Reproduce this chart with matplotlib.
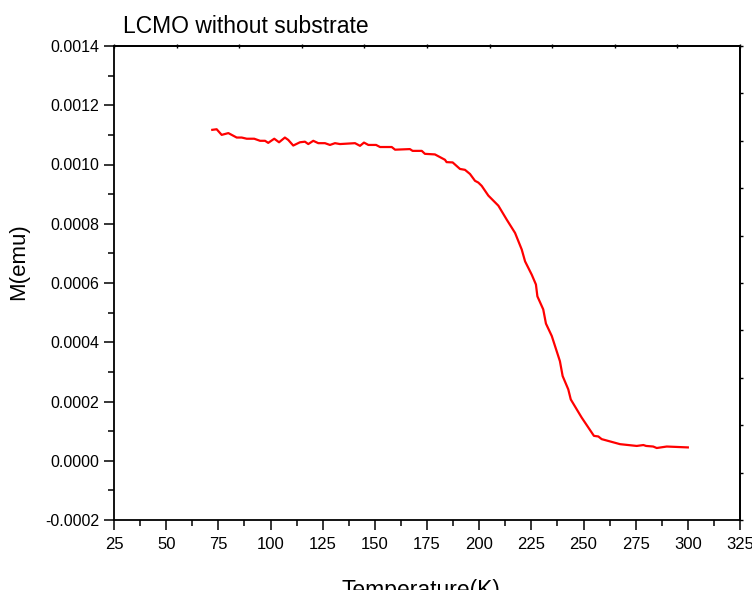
import matplotlib

matplotlib.use("Agg")
import matplotlib.pyplot as plt
from matplotlib.ticker import FixedLocator, MultipleLocator, FormatStrFormatter

plt.rcParams["font.family"] = ["Liberation Sans", "DejaVu Sans"]

# temperature (K) and magnetisation (x1e-4 emu)
temperature = [
    72.1, 74.2, 76.6, 79.8, 83.8, 86.2, 88.6, 92.2, 95.0, 97.4,
    98.9, 101.8, 104.1, 106.9, 108.5, 110.9, 114.1, 116.5, 118.1, 120.5,
    122.9, 126.1, 128.5, 130.9, 133.3, 140.5, 142.9, 144.8, 146.9, 150.6,
    152.5, 158.1, 159.7, 166.8, 168.1, 172.5, 174.0, 178.8, 181.2, 183.6,
    184.4, 187.3, 190.8, 193.2, 195.6, 198.0, 199.6, 201.2, 204.4, 209.2,
    213.2, 217.2, 220.4, 222.0, 225.2, 227.2, 227.9, 230.7, 232.0, 234.8,
    238.7, 240.0, 242.7, 243.9, 249.1, 255.0, 257.1, 258.7, 267.5, 275.5,
    278.7, 280.0, 283.4, 285.1, 289.9, 300.0,
]
moment_e4 = [
    11.17, 11.19, 11.00, 11.06, 10.91, 10.91, 10.87, 10.87, 10.80, 10.80,
    10.73, 10.87, 10.75, 10.91, 10.83, 10.64, 10.75, 10.77, 10.69, 10.80,
    10.72, 10.72, 10.66, 10.72, 10.69, 10.72, 10.63, 10.74, 10.66, 10.66,
    10.59, 10.59, 10.50, 10.52, 10.46, 10.46, 10.36, 10.34, 10.25, 10.16,
    10.08, 10.07, 9.85, 9.82, 9.68, 9.45, 9.39, 9.28, 8.95, 8.61,
    8.14, 7.69, 7.13, 6.73, 6.28, 5.95, 5.55, 5.11, 4.63, 4.21,
    3.36, 2.86, 2.41, 2.07, 1.46, 0.84, 0.82, 0.73, 0.56, 0.50,
    0.53, 0.50, 0.48, 0.43, 0.48, 0.45,
]
moment = [m * 1e-4 for m in moment_e4]

W, H = 752, 590
fig = plt.figure(figsize=(W / 100, H / 100), dpi=100)
ax = fig.add_axes([114 / W, 1 - 520 / H, 626 / W, 474 / H])

ax.plot(temperature, moment, color="#ff0000", lw=1.6)

ax.set_xlim(25, 325)
ax.set_ylim(-0.0002, 0.0014)
ax.xaxis.set_major_locator(MultipleLocator(25))
ax.xaxis.set_minor_locator(MultipleLocator(12.5))
ax.yaxis.set_major_locator(MultipleLocator(0.0002))
ax.yaxis.set_minor_locator(MultipleLocator(0.0001))
ax.yaxis.set_major_formatter(FormatStrFormatter("%.4f"))

ax.tick_params(which="major", direction="out", length=7.5, width=1.1,
               labelsize=11.5, pad=3)
ax.tick_params(which="minor", direction="out", length=4.5, width=1.1)
ax.tick_params(axis="x", which="major", labelsize=12, pad=5)
for s in ax.spines.values():
    s.set_linewidth(1.3)

# unlabeled ten-division ticks on the top and right frame
top = ax.secondary_xaxis("top")
top.xaxis.set_major_locator(FixedLocator([25 + 30 * i for i in range(11)]))
top.tick_params(direction="inout", length=3, width=1, labeltop=False)
top.spines["top"].set_linewidth(1.3)
right = ax.secondary_yaxis("right")
right.yaxis.set_major_locator(
    FixedLocator([-0.0002 + 0.00016 * i for i in range(11)]))
right.tick_params(direction="out", length=2, width=1, labelright=False)
right.spines["right"].set_linewidth(1.3)

fig.text(123 / W, 1 - 33 / H, "LCMO without substrate", fontsize=16.5,
         ha="left", va="baseline")
fig.text(19 / W, 1 - 262 / H, "M(emu)", fontsize=16, rotation=90,
         ha="center", va="center")
fig.text(421 / W, 1 - 590 / H, "Temperature(K)", fontsize=16.5,
         ha="center", va="center")

fig.savefig("out.png", dpi=100)
